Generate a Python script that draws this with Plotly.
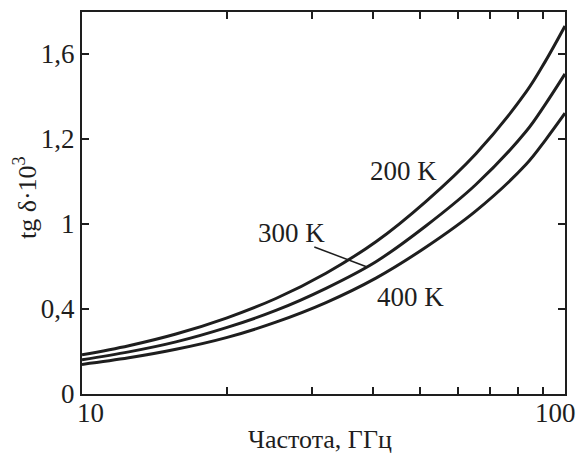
import plotly.graph_objects as go

freq_ghz = [10, 12.5, 15.65, 19.9, 25.2, 32.0, 40.6, 51.5, 65.4, 83.1, 91.1, 100]
tg_200k = [0.184, 0.227, 0.282, 0.357, 0.449, 0.568, 0.716, 0.905, 1.13, 1.42, 1.565, 1.73]
tg_300k = [0.161, 0.198, 0.245, 0.312, 0.393, 0.497, 0.622, 0.79, 0.985, 1.235, 1.363, 1.505]
tg_400k = [0.139, 0.17, 0.21, 0.265, 0.338, 0.43, 0.545, 0.69, 0.861, 1.08, 1.194, 1.32]

series_names = ["200 K", "300 K", "400 K"]
x_minor_ticks = [20, 30, 40, 50, 60, 70, 80, 90]
y_tickvals = [0, 0.4, 0.8, 1.2, 1.6]
y_ticktext = ["0", "0,4", "1", "1,2", "1,6"]

FONT = "Liberation Serif"
INK = "#1e1e1e"

fig = go.Figure()
for name, ys in zip(series_names, [tg_200k, tg_300k, tg_400k]):
    fig.add_trace(go.Scatter(x=freq_ghz, y=ys, mode="lines", name=name,
                             line=dict(color=INK, width=3, shape="spline", smoothing=1.0),
                             showlegend=False, hoverinfo="skip"))

fig.update_layout(
    width=577, height=453,
    margin=dict(l=82, r=11, t=10, b=59),
    paper_bgcolor="white", plot_bgcolor="white",
    font=dict(family=FONT, size=27, color=INK),
)
fig.update_xaxes(type="log", range=[1, 2], tickvals=x_minor_ticks, showticklabels=False,
                 ticks="inside", ticklen=7, tickwidth=2, tickcolor=INK,
                 showline=True, linewidth=2, linecolor=INK, mirror="ticks",
                 showgrid=False, zeroline=False)
fig.update_yaxes(range=[0, 1.796], tickvals=y_tickvals, ticktext=y_ticktext,
                 ticks="inside", ticklen=7, tickwidth=2, tickcolor=INK,
                 showline=True, linewidth=2, linecolor=INK, mirror="ticks",
                 showgrid=False, zeroline=False, tickfont=dict(size=27))

ann = dict(xref="paper", yref="paper", showarrow=False, xanchor="center", yanchor="middle")
lab_font = dict(family=FONT, size=27, color=INK)
fig.add_annotation(text="200 K", x=0.665, y=0.583, font=lab_font, **ann)
fig.add_annotation(text="300 K", x=0.434, y=0.422, font=lab_font, **ann)
fig.add_annotation(text="400 K", x=0.680, y=0.253, font=lab_font, **ann)
fig.add_annotation(text="10", x=0.018, y=-0.049, font=lab_font, **ann)
fig.add_annotation(text="100", x=0.98, y=-0.049, font=lab_font, **ann)
fig.add_annotation(text="Частота, ГГц", x=0.492, y=-0.12, font=dict(family=FONT, size=26, color=INK), **ann)
fig.add_annotation(text="tg δ·10<sup>3</sup>", x=-0.118, y=0.513, textangle=-90,
                   font=dict(family=FONT, size=26, color=INK), **ann)

fig.add_shape(type="line", xref="paper", yref="paper", x0=0.481, y0=0.385, x1=0.589, y1=0.333,
              line=dict(color=INK, width=1.5))

fig.write_html("out.html")
